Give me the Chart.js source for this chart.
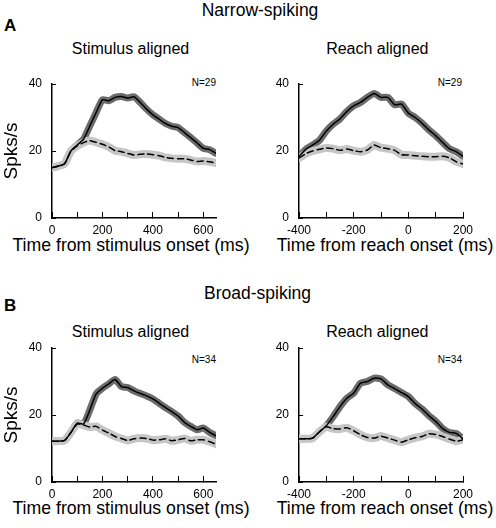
<!DOCTYPE html>
<html>
<head>
<meta charset="utf-8">
<script src="https://cdn.jsdelivr.net/npm/chart.js@4"></script>
<style>
  body { margin: 0; background: #fff; }
  #wrap { position: relative; width: 496px; height: 528px; overflow: hidden; font-family: 'Liberation Sans', Arial, sans-serif; color: #000; }
  canvas { position: absolute; }
  .lbl { position: absolute; white-space: nowrap; line-height: 1; }
  .c { transform: translateX(-50%); }
</style>
</head>
<body>
<div id="wrap">
  <div class="lbl" style="left:4px;top:17.3px;font-size:17px;font-weight:bold">A</div>
  <div class="lbl c" style="left:260px;top:1.9px;font-size:17.5px">Narrow-spiking</div>
  <div class="lbl c" style="left:130.5px;top:40.5px;font-size:16px">Stimulus aligned</div>
  <div class="lbl c" style="left:377.3px;top:40.5px;font-size:16px">Reach aligned</div>
  <div class="lbl" style="right:280px;top:77.5px;font-size:10px">N=29</div>
  <div class="lbl" style="right:34px;top:77.5px;font-size:10px">N=29</div>
  <div class="lbl c" style="left:131px;top:236.5px;font-size:17.7px">Time from stimulus onset (ms)</div>
  <div class="lbl c" style="left:385px;top:236.5px;font-size:17.7px">Time from reach onset (ms)</div>

  <div class="lbl" style="left:4px;top:297.3px;font-size:17px;font-weight:bold">B</div>
  <div class="lbl c" style="left:257.5px;top:285.2px;font-size:17.5px">Broad-spiking</div>
  <div class="lbl c" style="left:130.5px;top:323.7px;font-size:16px">Stimulus aligned</div>
  <div class="lbl c" style="left:377.3px;top:323.7px;font-size:16px">Reach aligned</div>
  <div class="lbl" style="right:280px;top:354.5px;font-size:10px">N=34</div>
  <div class="lbl" style="right:34px;top:354.5px;font-size:10px">N=34</div>
  <div class="lbl c" style="left:131px;top:500px;font-size:17.7px">Time from stimulus onset (ms)</div>
  <div class="lbl c" style="left:385px;top:500px;font-size:17.7px">Time from reach onset (ms)</div>

  <canvas id="aStim" width="250" height="205" style="left:0;top:60px"></canvas>
  <canvas id="aReach" width="246" height="205" style="left:250px;top:60px"></canvas>
  <canvas id="bStim" width="250" height="205" style="left:0;top:324px"></canvas>
  <canvas id="bReach" width="246" height="205" style="left:250px;top:324px"></canvas>
</div>
<script>
// time bins (ms)
const tStim = [0, 25, 50, 75, 100, 125, 150, 175, 200, 225, 250, 275, 300, 325, 350, 375, 400, 425, 450, 475, 500, 525, 550, 575, 600, 625, 650];
const tReach = [-400, -375, -350, -325, -300, -275, -250, -225, -200, -175, -150, -125, -100, -75, -50, -25, 0, 25, 50, 75, 100, 125, 150, 175, 200];

// tick marks / labelled ticks
const stimTicks = [0, 100, 200, 300, 400, 500, 600];
const stimLabels = [0, 200, 400, 600];
const reachTicks = [-400, -300, -200, -100, 0, 100, 200];
const reachLabels = [-400, -200, 0, 200];
const yTicks = [0, 20, 40];

// narrow-spiking, firing rate (spks/s)
const narrowStimSolid  = [15.0, 15.5, 16.2, 20.0, 21.8, 23.5, 27.5, 31.5, 35.3, 35.0, 36.0, 36.3, 35.8, 36.2, 34.5, 32.5, 30.8, 29.5, 28.2, 27.4, 27.0, 25.5, 24.0, 22.4, 20.8, 20.4, 19.3];
const narrowStimDashed = [15.0, 15.5, 16.2, 20.0, 21.5, 22.5, 23.1, 22.6, 22.0, 21.2, 20.1, 19.8, 19.3, 18.8, 19.0, 19.1, 18.9, 18.6, 18.1, 17.8, 17.7, 17.7, 17.3, 16.9, 17.0, 16.8, 16.4];
const narrowReachSolid  = [18.4, 20.5, 21.8, 23.2, 26.0, 28.0, 29.6, 31.8, 33.5, 34.5, 36.0, 37.2, 36.0, 36.0, 33.8, 34.0, 31.3, 30.0, 28.3, 26.3, 24.6, 22.6, 20.7, 19.8, 18.4];
const narrowReachDashed = [17.9, 19.2, 20.0, 20.5, 20.9, 20.7, 20.2, 20.6, 20.1, 19.8, 20.3, 21.8, 21.0, 20.7, 20.2, 18.9, 18.8, 18.6, 18.4, 18.3, 18.3, 18.4, 18.0, 16.8, 16.1];

// broad-spiking
const broadStimSolid  = [12.2, 12.2, 12.4, 14.8, 17.6, 17.3, 21.5, 26.3, 28.0, 29.3, 30.6, 28.5, 28.2, 27.2, 26.4, 25.7, 24.8, 23.5, 22.2, 21.0, 19.7, 17.8, 16.6, 15.6, 16.1, 14.8, 13.8];
const broadStimDashed = [12.2, 12.2, 12.4, 14.8, 17.3, 17.0, 16.4, 16.6, 15.5, 14.6, 13.6, 13.0, 12.4, 12.9, 13.1, 13.0, 12.5, 12.6, 12.9, 12.3, 12.6, 13.0, 12.3, 12.6, 12.6, 12.0, 11.3];
const broadReachSolid  = [12.9, 12.9, 13.1, 15.0, 16.8, 19.5, 22.5, 25.0, 26.5, 29.5, 30.0, 31.0, 30.8, 29.0, 27.9, 26.7, 25.5, 23.4, 21.8, 19.8, 18.1, 16.0, 14.8, 14.5, 12.9];
const broadReachDashed = [12.9, 12.9, 13.1, 15.0, 16.5, 15.9, 15.8, 16.2, 15.3, 14.1, 13.3, 13.1, 13.7, 13.1, 12.5, 11.9, 12.6, 13.2, 13.6, 14.4, 14.2, 13.6, 12.8, 12.2, 12.6];

Chart.defaults.font.family = "'Liberation Sans', Arial, sans-serif";
Chart.defaults.color = '#000';

function pts(times, vals) {
  return times.map((t, i) => ({ x: t, y: vals[i] }));
}

function makePanel(id, times, solid, dashed, xTicks, xLabels, yTitle, yWidth, padRight) {
  new Chart(document.getElementById(id), {
    type: 'line',
    data: {
      datasets: [
        { data: pts(times, solid), borderColor: '#000', borderWidth: 1.5, order: 0 },
        { data: pts(times, dashed), borderColor: '#000', borderWidth: 1.5, borderDash: [6, 4], order: 1 },
        { data: pts(times, dashed), borderColor: '#c6c6c6', borderWidth: 8, order: 2 },
        { data: pts(times, solid), borderColor: '#6c6c6c', borderWidth: 7, order: 3 }
      ]
    },
    options: {
      responsive: false,
      animation: false,
      events: [],
      elements: {
        point: { radius: 0 },
        line: { tension: 0.2, fill: false, borderCapStyle: 'round', borderJoinStyle: 'round' }
      },
      layout: { padding: { top: 24, right: padRight, left: 0, bottom: 0 } },
      plugins: { legend: { display: false }, tooltip: { enabled: false } },
      scales: {
        x: {
          type: 'linear',
          min: times[0],
          max: times[times.length - 1],
          afterBuildTicks: s => { s.ticks = xTicks.map(v => ({ value: v })); },
          afterFit: s => { s.height = 47; },
          ticks: {
            autoSkip: false,
            maxRotation: 0,
            padding: 11,
            font: { size: 12 },
            callback: v => (xLabels.includes(v) ? String(v) : '')
          },
          grid: { drawOnChartArea: false, drawTicks: true, tickLength: -6, color: '#000', lineWidth: 1 },
          border: { display: true, color: '#000', width: 1.5 }
        },
        y: {
          min: 0,
          max: 40,
          afterBuildTicks: s => { s.ticks = yTicks.map(v => ({ value: v })); },
          afterFit: s => { s.width = yWidth; },
          ticks: { padding: 14, font: { size: 12 } },
          grid: { drawOnChartArea: false, drawTicks: true, tickLength: -4, color: '#000', lineWidth: 1 },
          border: { display: true, color: '#000', width: 1.5 },
          title: { display: !!yTitle, text: yTitle, font: { size: 19 }, padding: { top: 0, bottom: 0 } }
        }
      }
    }
  });
}

makePanel('aStim', tStim, narrowStimSolid, narrowStimDashed, stimTicks, stimLabels, 'Spks/s', 52, 34);
makePanel('aReach', tReach, narrowReachSolid, narrowReachDashed, reachTicks, reachLabels, '', 49, 33);
makePanel('bStim', tStim, broadStimSolid, broadStimDashed, stimTicks, stimLabels, 'Spks/s', 52, 34);
makePanel('bReach', tReach, broadReachSolid, broadReachDashed, reachTicks, reachLabels, '', 49, 33);
</script>
</body>
</html>
